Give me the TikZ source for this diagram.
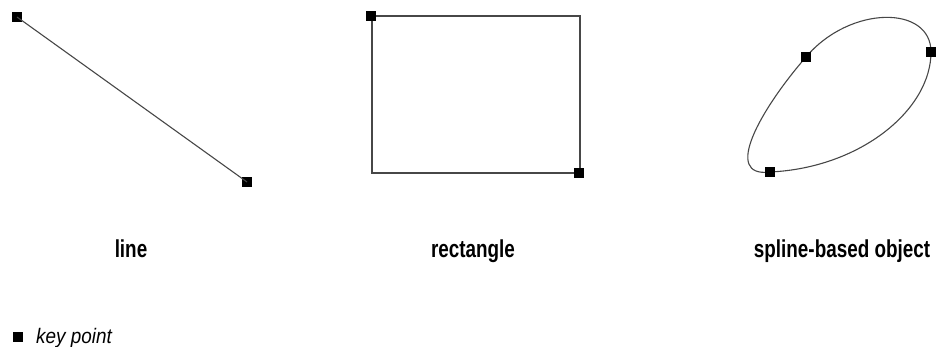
\documentclass[tikz,border=0pt]{standalone}
\usepackage{fontspec}
\newfontfamily\lblfont[FakeStretch=0.77]{Liberation Sans}
\newfontfamily\keyfont[FakeStretch=0.9]{Liberation Sans}
\tikzset{
  kp/.style={fill=black, draw=none, minimum size=10pt, inner sep=0pt, outer sep=0pt, rectangle},
  shapeline/.style={draw=black!72, line width=1.1pt},
  lbl/.style={anchor=base, inner sep=0pt, font=\lblfont\bfseries\fontsize{24.5}{26}\selectfont},
}
\begin{document}
\begin{tikzpicture}[x=1pt,y=-1pt]
\useasboundingbox (0,0) rectangle (936,347);
% line
\node[kp] (l1) at (17,17) {};
\node[kp] (l2) at (247,182) {};
\draw[shapeline] (l1.center) -- (l2.center);
% rectangle
\coordinate (r1) at (372,16);
\coordinate (r2) at (580,173);
\draw[shapeline] (r1) rectangle (r2);
\node[kp] (rk1) at (371,16) {};
\node[kp] (rk2) at (579,173) {};
% spline
\coordinate (s1) at (770,172);
\coordinate (s2) at (806,57);
\coordinate (s3) at (931,52);
\draw[shapeline] (s1) .. controls (722,178) and (760,110) .. (s2)
  .. controls (850,5) and (931,5) .. (s3)
  .. controls (931,110) and (860,168) .. (s1) -- cycle;
\node[kp] (sk1) at (s1) {};
\node[kp] (sk2) at (s2) {};
\node[kp] (sk3) at (s3) {};
% labels
\node[lbl] (t1) at (131,258) {line};
\node[lbl] (t2) at (473,258) {rectangle};
\node[lbl] (t3) at (842,258) {spline-based object};
% legend
\node[kp] (kk) at (17.5,336.5) {};
\node[anchor=base west, inner sep=0pt, font=\keyfont\itshape\fontsize{21}{23}\selectfont] (kt) at (36,343) {key point};
\end{tikzpicture}
\end{document}
